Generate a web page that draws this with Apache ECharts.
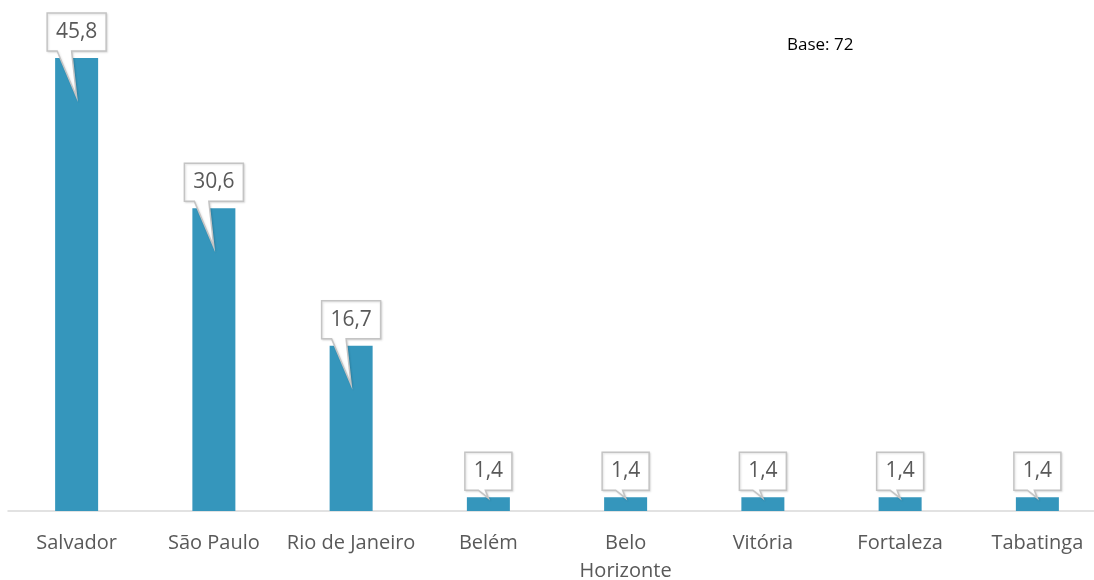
<!DOCTYPE html>
<html>
<head>
	<meta charset="utf-8" />
	<title>Base 72</title>
	<script src="https://cdn.jsdelivr.net/npm/echarts@6/dist/echarts.min.js"></script>
	<style>
		html, body { margin: 0; padding: 0; background: #fff; }
		#main { width: 1094px; height: 580px; }
	</style>
</head>
<body>
	<div id="main"></div>
	<script type="text/javascript">
		var cidades = ['Salvador', 'São Paulo', 'Rio de Janeiro', 'Belém', 'Belo\nHorizonte', 'Vitória', 'Fortaleza', 'Tabatinga'];
		var valores = [45.8, 30.6, 16.7, 1.4, 1.4, 1.4, 1.4, 1.4];
		var rotulos = ['45,8', '30,6', '16,7', '1,4', '1,4', '1,4', '1,4', '1,4'];

		var fonte = '"Open Sans", "Noto Sans", sans-serif';
		var ctx = document.createElement('canvas').getContext('2d');
		ctx.font = '21px ' + fonte;

		var chart = echarts.init(document.getElementById('main'));

		// balão com ponta apontando pra barra
		function desenhaBalao(params, api) {
			var i = api.value(0);
			var topo = api.coord([i, api.value(1)]);
			var base = api.coord([i, 0]);
			var txt = rotulos[i];
			var w = Math.round(ctx.measureText(txt).width) + 18;
			var h = 38;
			var cx = topo[0];
			var B = topo[1] - 7;
			var T = B - h;
			var L = cx - w / 2, R = cx + w / 2;
			var alto = (base[1] - topo[1]) > 100;
			var tipY = alto ? topo[1] + 39 : topo[1] + 1;
			var a = alto ? L + 10 : cx - 10;
			var b = alto ? cx - 5 : cx - 3;
			return {
				type: 'group',
				children: [{
					type: 'polygon',
					shape: { points: [[L, T], [R, T], [R, B], [b, B], [cx, tipY], [a, B], [L, B]] },
					style: { fill: '#fff', stroke: '#c4c4c4', lineWidth: 1.5, shadowColor: 'rgba(0,0,0,0.12)', shadowBlur: 2, shadowOffsetX: 1, shadowOffsetY: 1 }
				}, {
					type: 'text',
					style: { text: txt, x: cx, y: (T + B) / 2, align: 'center', verticalAlign: 'middle', fill: '#595959', font: '21px ' + fonte }
				}]
			};
		}

		var option = {
			animation: false,
			grid: { left: 8, right: -12, top: 16.5, bottom: 69, containLabel: false, outerBoundsMode: 'none' },
			xAxis: {
				type: 'category',
				data: cidades,
				axisLine: { lineStyle: { color: '#d9d9d9', width: 1.5 } },
				axisTick: { show: false },
				axisLabel: { color: '#595959', fontSize: 20, fontFamily: fonte, margin: 18, lineHeight: 28, interval: 0 }
			},
			yAxis: {
				type: 'value',
				min: 0,
				max: 50,
				show: false
			},
			graphic: [{
				type: 'text',
				left: 787,
				top: 37,
				style: { text: 'Base: 72', fill: '#000', font: '17px ' + fonte }
			}],
			series: [{
				type: 'bar',
				data: valores,
				barWidth: 43,
				itemStyle: { color: '#3596bc' }
			}, {
				type: 'custom',
				data: valores.map(function (v, i) { return [i, v]; }),
				renderItem: desenhaBalao,
				clip: false,
				z: 5
			}]
		};
		chart.setOption(option);
	</script>
</body>
</html>
